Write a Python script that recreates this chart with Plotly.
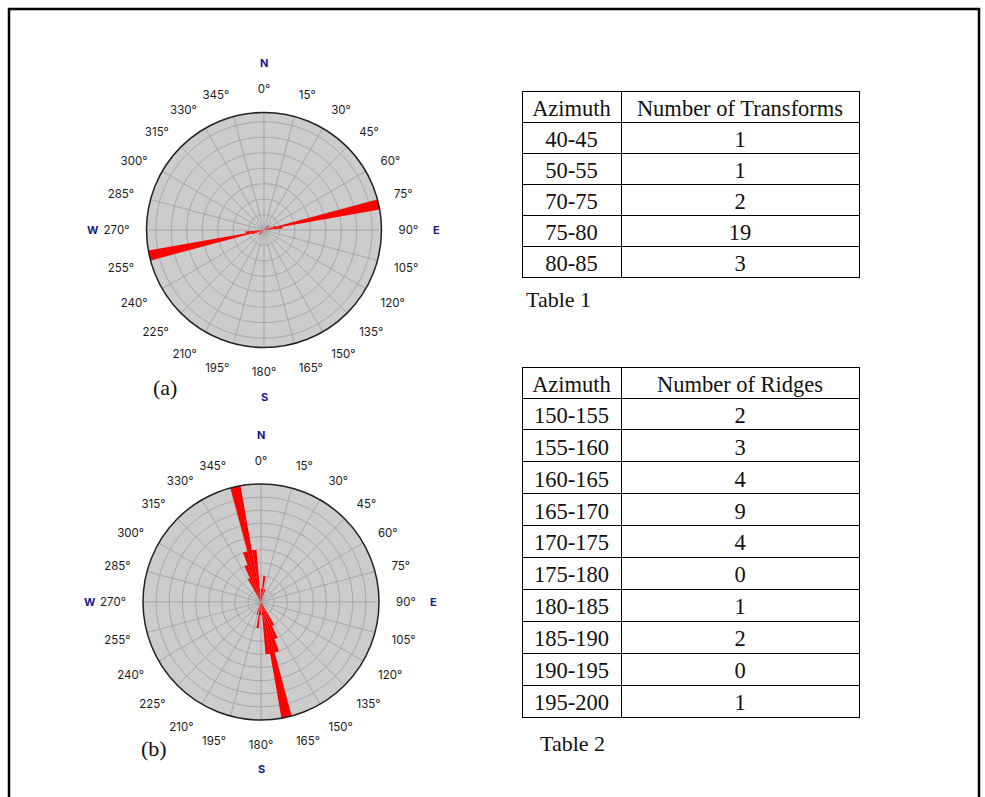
import plotly.graph_objects as go

W, H = 985, 797

# ---- data ----
transform_bins = ["40-45", "50-55", "70-75", "75-80", "80-85"]
transform_counts = [1, 1, 2, 19, 3]

ridge_bins = ["150-155", "155-160", "160-165", "165-170", "170-175",
              "175-180", "180-185", "185-190", "190-195", "195-200"]
ridge_counts = [2, 3, 4, 9, 4, 0, 1, 2, 0, 1]

angle_ticks = list(range(0, 360, 15))
angle_labels = [f"{a}°" for a in angle_ticks]
compass = ["N", "E", "S", "W"]


def bin_centers(bins):
    out = []
    for b in bins:
        lo, hi = [float(v) for v in b.split("-")]
        out.append(((lo + hi) / 2.0) % 360)
    return out


def px(x):
    return x / W


def py(y):
    return 1 - y / H


fig = go.Figure()

ta = bin_centers(transform_bins)
fig.add_trace(go.Barpolar(
    r=transform_counts + transform_counts,
    theta=ta + [(t + 180) % 360 for t in ta],
    width=5, marker=dict(color="#ff0000", line=dict(width=0)),
    subplot="polar", showlegend=False))

tb = bin_centers(ridge_bins)
fig.add_trace(go.Barpolar(
    r=ridge_counts + ridge_counts,
    theta=tb + [(t + 180) % 360 for t in tb],
    width=5, marker=dict(color="#ff0000", line=dict(width=0)),
    subplot="polar2", showlegend=False))


def polar_layout(cx, cy, rad, rmax, dtick):
    return dict(
        domain=dict(x=[px(cx - rad), px(cx + rad)], y=[py(cy + rad), py(cy - rad)]),
        bgcolor="#cccccc",
        hole=0.0,
        angularaxis=dict(
            rotation=90, direction="clockwise",
            tickvals=angle_ticks, ticktext=angle_labels,
            ticks="outside", ticklen=14, tickcolor="rgba(0,0,0,0)",
            tickfont=dict(family="Inter", size=11.5, color="#1a1a1a"),
            showline=True, linecolor="#222222", linewidth=1.5,
            gridcolor="#a9a9a9", gridwidth=1,
        ),
        radialaxis=dict(
            range=[0, rmax], dtick=dtick, showticklabels=False, ticks="",
            showline=False, gridcolor="#a9a9a9", gridwidth=1,
        ),
    )


A = (264, 230, 117.5)
B = (261, 602, 118)

annotations = []
for (cx, cy, rad) in (A, B):
    offs = {"N": (0, -167), "E": (172, 0), "S": (0, 167), "W": (-171, 0)}
    for k in compass:
        dx, dy = offs[k]
        annotations.append(dict(
            x=px(cx + dx), y=py(cy + dy), xref="paper", yref="paper",
            text=f"<b>{k}</b>", showarrow=False,
            font=dict(family="Inter", size=11, color="#1a1a8c"),
            xanchor="center", yanchor="middle"))

serif = "Liberation Serif"
for txt, x, y in (("(a)", 165, 388), ("(b)", 154, 748),
                  ("Table 1", 558, 300), ("Table 2", 572, 743)):
    annotations.append(dict(
        x=px(x), y=py(y), xref="paper", yref="paper", text=txt,
        showarrow=False, font=dict(family=serif, size=22, color="#111111"),
        xanchor="center", yanchor="middle"))

fig.add_trace(go.Table(
    domain=dict(x=[px(522), px(859)], y=[py(280), py(91)]),
    columnwidth=[99, 238],
    header=dict(values=["Azimuth", "Number of Transforms"],
                fill_color="white", line=dict(color="black", width=1),
                align="center", height=31,
                font=dict(family=serif, size=22.5, color="#111111")),
    cells=dict(values=[transform_bins, [str(v) for v in transform_counts]],
               fill_color="white", line=dict(color="black", width=1),
               align="center", height=31,
               font=dict(family=serif, size=22.5, color="#111111")),
))

fig.add_trace(go.Table(
    domain=dict(x=[px(522), px(859)], y=[py(720), py(367)]),
    columnwidth=[99, 238],
    header=dict(values=["Azimuth", "Number of Ridges"],
                fill_color="white", line=dict(color="black", width=1),
                align="center", height=31,
                font=dict(family=serif, size=22.5, color="#111111")),
    cells=dict(values=[ridge_bins, [str(v) for v in ridge_counts]],
               fill_color="white", line=dict(color="black", width=1),
               align="center", height=31.9,
               font=dict(family=serif, size=22.5, color="#111111")),
))

fig.update_layout(
    width=W, height=H,
    margin=dict(l=0, r=0, t=0, b=0),
    paper_bgcolor="white", plot_bgcolor="white",
    polar=polar_layout(*A, 19, 2.5),
    polar2=polar_layout(*B, 9, 1),
    annotations=annotations,
    shapes=[dict(type="rect", xref="paper", yref="paper",
                 x0=px(9), x1=px(979), y0=py(9), y1=-0.05,
                 line=dict(color="black", width=2.5), fillcolor="rgba(0,0,0,0)")],
)

fig.write_html(
    "out.html",
    config={"displayModeBar": False},
    post_script="document.body.style.margin='0';document.body.style.overflow='hidden';",
)
